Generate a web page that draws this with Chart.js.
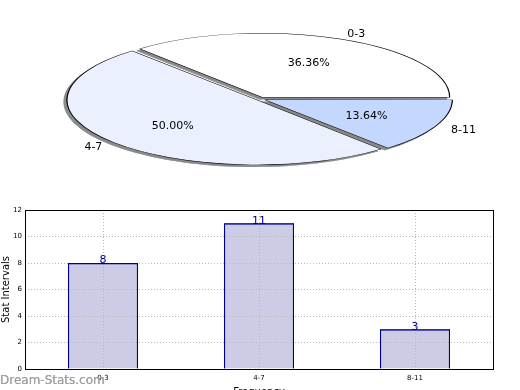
<!DOCTYPE html>
<html>
<head>
<meta charset="utf-8">
<script src="https://cdn.jsdelivr.net/npm/chart.js@4/dist/chart.umd.min.js"></script>
<style>
html,body{margin:0;padding:0;width:520px;height:390px;overflow:hidden;background:#fff;}
#pieWrap{position:absolute;left:0;top:0;width:520px;height:200px;}
#barWrap{position:absolute;left:0;top:200px;width:520px;height:200px;}
#wm{position:absolute;left:0;top:373px;font:12px "DejaVu Sans",sans-serif;color:#a0a0a0;white-space:nowrap;text-shadow:0 0 0.6px #a0a0a0;}
</style>
</head>
<body>
<div id="pieWrap"><canvas id="pie"></canvas></div>
<div id="barWrap"><canvas id="bar"></canvas></div>
<div id="wm">Dream-Stats.com</div>
<script>
// ---- data ----
const categories = ["0-3", "4-7", "8-11"];
const frequencies = [8, 11, 3];
const sliceColors = ["#ffffff", "#eaf0fd", "#c4d7ff"];
const sliceOffsets = [22, 16, 22];
const yTicks = [0, 2, 4, 6, 8, 10, 12];

const total = frequencies.reduce((a, b) => a + b, 0);
// Chart.js goes clockwise; matplotlib-style pie goes counter-clockwise from 3 o'clock
const pieLabels = categories.slice().reverse();
const pieValues = frequencies.slice().reverse();
const pieColors = sliceColors.slice().reverse();
const pieOffsets = sliceOffsets.slice().reverse();

const FONT = "DejaVu Sans";
const K = 0.342;          // vertical squash of the pie
const CY_TARGET = 99;     // ellipse center y on page

function squash(chart, ctx) {
  const a = chart.getDatasetMeta(0).data[0];
  ctx.translate(a.x, CY_TARGET);
  ctx.scale(1, K);
  ctx.translate(-a.x, -a.y);
}
function mapPt(chart, x, y) {
  const a = chart.getDatasetMeta(0).data[0];
  return {x: x, y: CY_TARGET + (y - a.y) * K};
}

const pieShape = {
  id: 'pieShape',
  beforeDatasetsDraw(chart) {
    const ctx = chart.ctx;
    const meta = chart.getDatasetMeta(0);
    // shadow pass
    ctx.save();
    ctx.translate(-3, 2);
    squash(chart, ctx);
    meta.data.forEach(arc => {
      const orig = arc.options;
      arc.options = Object.assign({}, orig, {backgroundColor: '#8a8a8a', borderColor: '#8a8a8a'});
      arc.draw(ctx);
      arc.options = orig;
    });
    ctx.restore();
    ctx.save();
    squash(chart, ctx);
  },
  afterDatasetsDraw(chart) {
    const ctx = chart.ctx;
    ctx.restore();
    const meta = chart.getDatasetMeta(0);
    ctx.save();
    ctx.font = "11px '" + FONT + "'";
    ctx.fillStyle = '#000';
    ctx.textBaseline = 'middle';
    meta.data.forEach((arc, i) => {
      const mid = (arc.startAngle + arc.endAngle) / 2;
      const off = (arc.options.offset || 0) / 4;
      const cx = arc.x + Math.cos(mid) * off;
      const cy = arc.y + Math.sin(mid) * off;
      const r = arc.outerRadius;
      const p1 = mapPt(chart, cx + Math.cos(mid) * r * 1.1, cy + Math.sin(mid) * r * 1.1);
      ctx.textAlign = Math.cos(mid) >= 0 ? 'left' : 'right';
      ctx.fillText(pieLabels[i], p1.x, p1.y + 1);
      const p2 = mapPt(chart, cx + Math.cos(mid) * r * 0.6, cy + Math.sin(mid) * r * 0.6);
      ctx.textAlign = 'center';
      ctx.fillText((pieValues[i] / total * 100).toFixed(2) + '%', p2.x, p2.y + 1);
    });
    ctx.restore();
  }
};

new Chart(document.getElementById('pie'), {
  type: 'pie',
  data: {
    labels: pieLabels,
    datasets: [{
      data: pieValues,
      backgroundColor: pieColors,
      borderColor: '#000',
      borderWidth: 1.2,
      offset: pieOffsets,
      radius: 186
    }]
  },
  options: {
    responsive: true,
    maintainAspectRatio: false,
    animation: false,
    rotation: 90,
    plugins: {legend: {display: false}, tooltip: {enabled: false}}
  },
  plugins: [pieShape]
});

const barExtras = {
  id: 'barExtras',
  afterDraw(chart) {
    const ctx = chart.ctx;
    const meta = chart.getDatasetMeta(0);
    // re-stroke bar outlines above the grid
    meta.data.forEach(b => {
      const orig = b.options;
      b.options = Object.assign({}, orig, {backgroundColor: 'rgba(0,0,0,0)'});
      b.draw(ctx);
      b.options = orig;
    });
    ctx.save();
    ctx.font = "11px '" + FONT + "'";
    ctx.fillStyle = '#00008b';
    ctx.textAlign = 'center';
    ctx.textBaseline = 'bottom';
    meta.data.forEach((b, i) => {
      ctx.fillText(String(frequencies[i]), b.x, b.y + 3);
    });
    ctx.restore();
    const a = chart.chartArea;
    ctx.save();
    ctx.strokeStyle = '#000';
    ctx.lineWidth = 1;
    ctx.strokeRect(Math.round(a.left) + 0.5, Math.round(a.top) + 0.5, Math.round(a.right - a.left), Math.round(a.bottom - a.top));
    ctx.restore();
  }
};

new Chart(document.getElementById('bar'), {
  type: 'bar',
  data: {
    labels: categories,
    datasets: [{
      data: frequencies,
      backgroundColor: '#cccce6',
      borderColor: '#00008b',
      borderWidth: 1.2,
      barPercentage: 0.45,
      categoryPercentage: 1.0
    }]
  },
  options: {
    responsive: true,
    maintainAspectRatio: false,
    animation: false,
    layout: {padding: {left: 0, right: 27, top: 10, bottom: 0}},
    plugins: {legend: {display: false}, tooltip: {enabled: false}},
    scales: {
      x: {
        afterFit(s) { s.height = 31; },
        grid: {offset: false, color: '#b8b8b8', lineWidth: 1, tickLength: 0, z: 1, drawTicks: false},
        border: {display: false, dash: [1, 2]},
        ticks: {font: {family: FONT, size: 7}, color: '#000', padding: 5, maxRotation: 0},
        title: {display: true, text: 'Frequency', font: {family: FONT, size: 10}, color: '#000', padding: {top: 0, bottom: 2}}
      },
      y: {
        min: 0, max: 12,
        afterFit(s) { s.width = 25; },
        afterBuildTicks(s) { s.ticks = yTicks.map(v => ({value: v})); },
        grid: {color: '#b8b8b8', lineWidth: 1, tickLength: 0, z: 1, drawTicks: false},
        border: {display: false, dash: [1, 2]},
        ticks: {font: {family: FONT, size: 7}, color: '#000', padding: 3},
        title: {display: true, text: 'Stat Intervals', font: {family: FONT, size: 10}, color: '#000', padding: 0}
      }
    }
  },
  plugins: [barExtras]
});
</script>
</body>
</html>
